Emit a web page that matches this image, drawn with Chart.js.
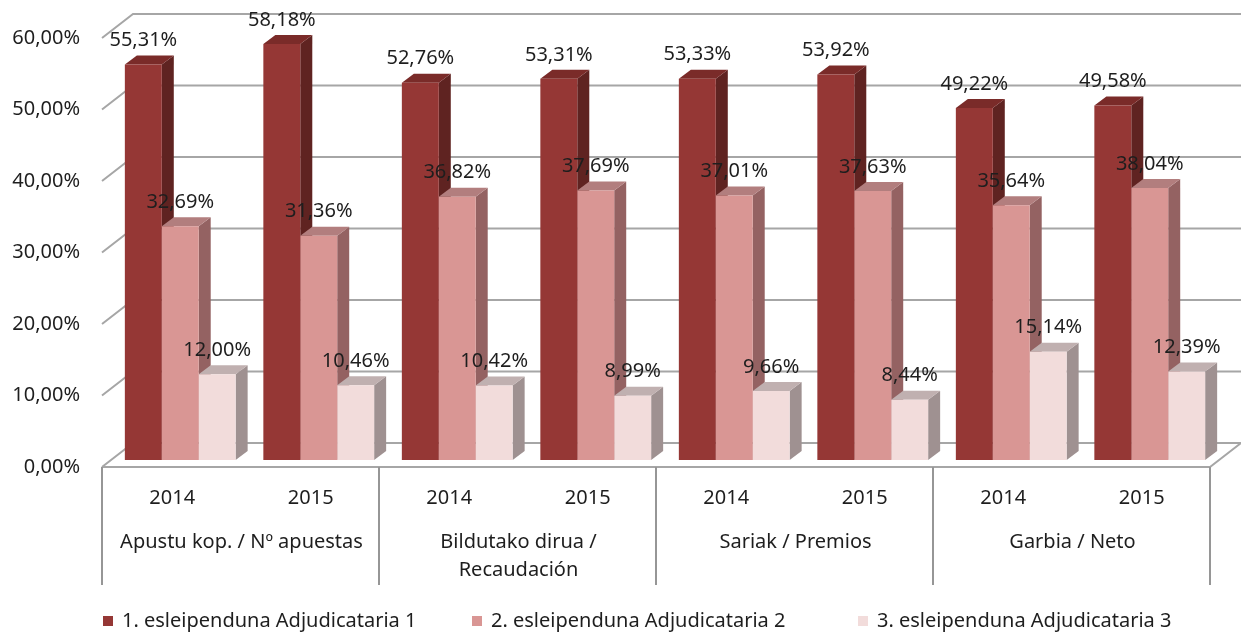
<!DOCTYPE html>
<html>
<head>
<meta charset="utf-8">
<script src="https://cdn.jsdelivr.net/npm/chart.js@4.4.1/dist/chart.umd.min.js"></script>
<style>
  body { margin: 0; background: #fff; }
  #wrap { width: 1241px; height: 635px; position: relative; }
</style>
</head>
<body>
<div id="wrap"><canvas id="chart"></canvas></div>
<script>
// datos
const years = ['2014', '2015', '2014', '2015', '2014', '2015', '2014', '2015'];
const groups = ['Apustu kop. / Nº apuestas', ['Bildutako dirua /', 'Recaudación'], 'Sariak / Premios', 'Garbia / Neto'];
const seriesNames = ['1. esleipenduna Adjudicataria 1', '2. esleipenduna Adjudicataria 2', '3. esleipenduna Adjudicataria 3'];
const adj1 = [55.31, 58.18, 52.76, 53.31, 53.33, 53.92, 49.22, 49.58];
const adj2 = [32.69, 31.36, 36.82, 37.69, 37.01, 37.63, 35.64, 38.04];
const adj3 = [12.00, 10.46, 10.42, 8.99, 9.66, 8.44, 15.14, 12.39];
const yTicks = [0, 10, 20, 30, 40, 50, 60];

// colores: frente, lado, arriba
const faces = [
  { front: '#953735', side: '#5f2321', top: '#7a2b29' },
  { front: '#d99694', side: '#946262', top: '#b27e7e' },
  { front: '#f2dcdb', side: '#9f9191', top: '#c0b0b0' }
];
const FONT = '"Noto Sans", sans-serif';
const TXT = '#1e1e1e';
const GRID = '#a6a6a6';
const DX = 12, DY = -9; // profundidad de la barra

const pct = v => v.toFixed(2).replace('.', ',') + '%';

// paredes, suelo y caras laterales (antes de las barras)
const box3d = {
  id: 'box3d',
  beforeDatasetsDraw(chart) {
    const { ctx, chartArea: a, scales: { y } } = chart;
    const fl = a.left - 9, bl = a.left + 22, fr = a.right - 9, br = a.right + 22;
    ctx.save();
    ctx.strokeStyle = GRID;
    ctx.lineWidth = 2;
    yTicks.forEach(v => {
      const py = y.getPixelForValue(v);
      ctx.beginPath();
      ctx.moveTo(fl, py + 7);
      ctx.lineTo(bl, py - 17);
      ctx.lineTo(br, py - 17);
      if (v === 0) {
        ctx.lineTo(fr, py + 7);
        ctx.lineTo(fl, py + 7);
      }
      ctx.stroke();
    });
    // caja de categorías
    const py0 = y.getPixelForValue(0) + 7;
    ctx.strokeStyle = '#969696';
    for (let k = 0; k <= 4; k++) {
      const x = Math.round(fl + k * (fr - fl) / 4);
      ctx.beginPath();
      ctx.moveTo(x, py0);
      ctx.lineTo(x, 585);
      ctx.stroke();
    }
    // lados y tapas
    chart.data.datasets.forEach((ds, di) => {
      const meta = chart.getDatasetMeta(di);
      meta.data.forEach(bar => {
        const l = bar.x - bar.width / 2, r = bar.x + bar.width / 2;
        const t = bar.y, b = bar.base;
        ctx.fillStyle = faces[di].side;
        ctx.beginPath();
        ctx.moveTo(r, t); ctx.lineTo(r + DX, t + DY);
        ctx.lineTo(r + DX, b + DY); ctx.lineTo(r, b);
        ctx.closePath(); ctx.fill();
        ctx.fillStyle = faces[di].top;
        ctx.beginPath();
        ctx.moveTo(l, t); ctx.lineTo(l + DX, t + DY);
        ctx.lineTo(r + DX, t + DY); ctx.lineTo(r, t);
        ctx.closePath(); ctx.fill();
      });
    });
    ctx.restore();
  },
  afterDatasetsDraw(chart) {
    const { ctx } = chart;
    ctx.save();
    ctx.font = '20px ' + FONT;
    ctx.fillStyle = TXT;
    ctx.textAlign = 'center';
    ctx.textBaseline = 'middle';
    chart.data.datasets.forEach((ds, di) => {
      chart.getDatasetMeta(di).data.forEach((bar, i) => {
        ctx.fillText(pct(ds.data[i]), bar.x, bar.y - 24);
      });
    });
    ctx.restore();
  },
  afterDraw(chart) {
    // leyenda
    const { ctx } = chart;
    const xs = [103, 472, 858];
    ctx.save();
    ctx.font = '20px ' + FONT;
    ctx.textBaseline = 'middle';
    ctx.textAlign = 'left';
    chart.data.datasets.forEach((ds, di) => {
      ctx.fillStyle = faces[di].front;
      ctx.fillRect(xs[di], 616, 10, 10);
      ctx.fillStyle = TXT;
      ctx.fillText(ds.label, xs[di] + 19, 621);
    });
    ctx.restore();
  }
};

new Chart(document.getElementById('chart'), {
  type: 'bar',
  data: {
    labels: years,
    datasets: [adj1, adj2, adj3].map((d, i) => ({
      label: seriesNames[i],
      data: d,
      backgroundColor: faces[i].front,
      borderWidth: 0,
      categoryPercentage: 0.8,
      barPercentage: 1.0
    }))
  },
  options: {
    responsive: true,
    maintainAspectRatio: false,
    animation: false,
    layout: { padding: { top: 31, right: 22, bottom: 32, left: 0 } },
    plugins: { legend: { display: false }, tooltip: { enabled: false } },
    scales: {
      x: {
        weight: 0,
        grid: { display: false, drawTicks: false },
        border: { display: false },
        ticks: { font: { family: FONT, size: 20, lineHeight: 1.2 }, color: TXT, padding: 26, labelOffset: -8, maxRotation: 0, autoSkip: false },
        afterFit: s => { s.height = 60; }
      },
      x2: {
        type: 'category',
        labels: groups,
        offset: true,
        position: 'bottom',
        weight: 1,
        grid: { display: false, drawTicks: false },
        border: { display: false },
        ticks: { font: { family: FONT, size: 20, lineHeight: 1.4 }, color: TXT, padding: 8, labelOffset: -8, maxRotation: 0, autoSkip: false },
        afterFit: s => { s.height = 83; }
      },
      y: {
        min: 0,
        max: 60,
        grid: { display: false, drawTicks: false },
        border: { display: false },
        ticks: { stepSize: 10, font: { family: FONT, size: 20 }, color: TXT, padding: 31, labelOffset: 7, callback: v => pct(v) },
        afterFit: s => { s.width = 111; s.paddingTop = 0; s.paddingBottom = 0; }
      }
    }
  },
  plugins: [box3d]
});
</script>
</body>
</html>
